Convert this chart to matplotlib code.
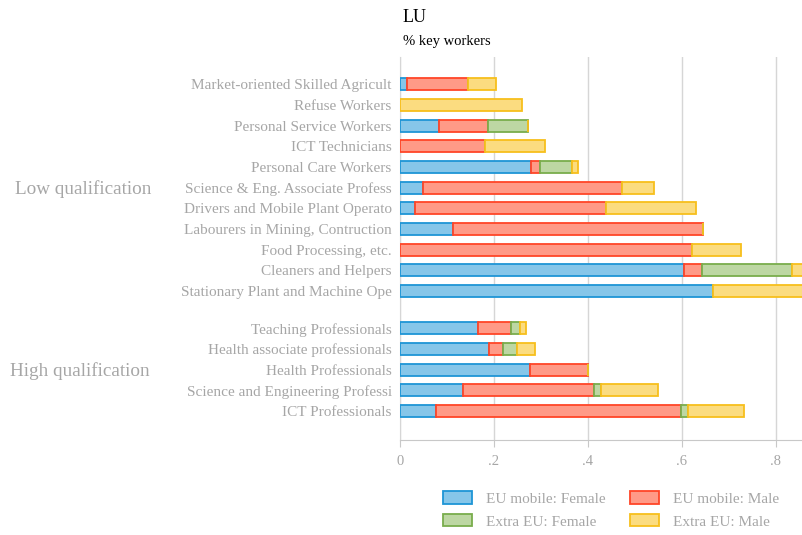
import matplotlib.pyplot as plt
import numpy as np

plt.rcParams['font.family'] = ['Liberation Serif', 'DejaVu Serif']

occupations = [
    'ICT Professionals',
    'Science and Engineering Professi',
    'Health Professionals',
    'Health associate professionals',
    'Teaching Professionals',
    'Stationary Plant and Machine Ope',
    'Cleaners and Helpers',
    'Food Processing, etc.',
    'Labourers in Mining, Contruction',
    'Drivers and Mobile Plant Operato',
    'Science & Eng. Associate Profess',
    'Personal Care Workers',
    'ICT Technicians',
    'Personal Service Workers',
    'Refuse Workers',
    'Market-oriented Skilled Agricult',
]
eu_female = [0.076, 0.135, 0.277, 0.189, 0.165, 0.666, 0.604, 0.0, 0.113, 0.031, 0.049, 0.279, 0.0, 0.084, 0.0, 0.014]
eu_male = [0.523, 0.279, 0.124, 0.030, 0.071, 0.0, 0.040, 0.622, 0.532, 0.407, 0.423, 0.018, 0.180, 0.103, 0.0, 0.130]
extra_female = [0.014, 0.014, 0.0, 0.031, 0.019, 0.0, 0.191, 0.0, 0.0, 0.0, 0.0, 0.069, 0.0, 0.085, 0.0, 0.0]
extra_male = [0.119, 0.122, 0.0, 0.037, 0.013, 0.25, 0.03, 0.104, 0.0, 0.193, 0.068, 0.014, 0.128, 0.0, 0.260, 0.060]

series = [
    ('EU mobile: Female', eu_female, '#86c6e9', '#1e95d6'),
    ('EU mobile: Male', eu_male, '#ff9a87', '#ff4527'),
    ('Extra EU: Female', extra_female, '#bdd7a3', '#79ad4c'),
    ('Extra EU: Male', extra_male, '#fbdc80', '#f7bf1c'),
]

# high qualification rows 0-4, gap, low qualification rows after
ypos = np.array([0, 1, 2, 3, 4] + [5.8 + i for i in range(11)])

fig = plt.figure(figsize=(8.02, 5.35), dpi=100)
ax = fig.add_axes([0.4988, 0.1776, 0.5012, 0.7154])

left = np.zeros(len(occupations))
handles = []
for name, vals, fc, ec in series:
    vals = np.array(vals)
    b = ax.barh(ypos, vals, left=left, height=0.58, color=fc, edgecolor=ec,
                linewidth=1.3, label=name, zorder=3)
    handles.append(b)
    left += vals

ax.set_xlim(0, 0.856)
ax.set_ylim(-1.4, 17.1)
ax.set_xticks([0, 0.2, 0.4, 0.6, 0.8])
ax.set_xticklabels(['0', '.2', '.4', '.6', '.8'])
ax.set_yticks(ypos)
ax.set_yticklabels(occupations)
ax.tick_params(axis='y', length=0, pad=6, labelsize=11, labelcolor='#a6a6a6')
ax.tick_params(axis='x', length=5, color='#c8c8c8', labelsize=10.5,
               labelcolor='#a6a6a6', pad=6)
ax.grid(axis='x', color='#d6d6d6', linewidth=1, zorder=0)
for s in ['top', 'right']:
    ax.spines[s].set_visible(False)
ax.spines['left'].set_color('#d6d6d6')
ax.spines['bottom'].set_color('#c8c8c8')

fig.text(15 / 802, 1 - 189 / 535, 'Low qualification', fontsize=13.8,
         color='#a6a6a6', va='center', ha='left')
fig.text(10 / 802, 1 - 371 / 535, 'High qualification', fontsize=13.8,
         color='#a6a6a6', va='center', ha='left')

fig.text(403 / 802, 1 - 17 / 535, 'LU', fontsize=13, va='center', ha='left')
fig.text(403 / 802, 1 - 42 / 535, '% key workers', fontsize=10.5, va='center', ha='left')

# legend fills column-wise, so order handles for row-wise reading
order = [0, 2, 1, 3]
leg = fig.legend(handles=[handles[i] for i in order], loc='center', ncol=2,
                 bbox_to_anchor=(611 / 802, 1 - 510 / 535), frameon=False,
                 fontsize=11, handlelength=1.9, handleheight=0.85,
                 handletextpad=0.9, columnspacing=1.6, labelspacing=0.55)
for t in leg.get_texts():
    t.set_color('#a6a6a6')

plt.savefig('out.png', dpi=100)
